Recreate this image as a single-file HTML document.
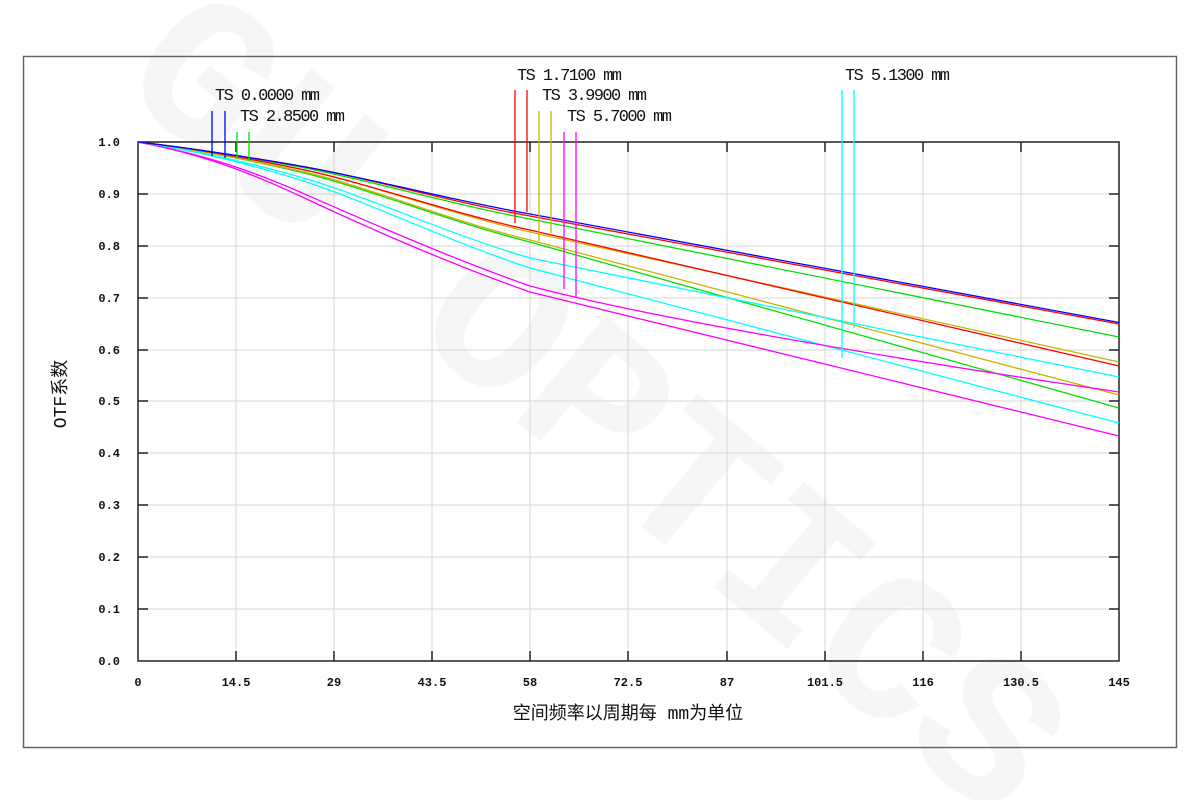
<!DOCTYPE html>
<html><head><meta charset="utf-8"><style>
html,body{margin:0;padding:0;background:#fff;width:1200px;height:800px;overflow:hidden}
svg{display:block;overflow:hidden}
text{font-family:"Liberation Mono","Noto Sans CJK SC",monospace}
</style></head><body>
<svg width="1200" height="800" viewBox="0 0 1200 800" xmlns="http://www.w3.org/2000/svg">
<rect x="0" y="0" width="1200" height="800" fill="#fff"/>
<text x="600" y="470" font-size="210" fill="#f6f6f6" font-family="Liberation Sans,sans-serif" font-weight="bold" transform="rotate(40 600 400)" text-anchor="middle" textLength="1150" lengthAdjust="spacingAndGlyphs">GU OPTICS</text>
<rect x="23.5" y="56.5" width="1153" height="691" fill="none" stroke="#666" stroke-width="1.5"/>
<g stroke="#d4d4d4" stroke-width="1">
<line x1="236" y1="142" x2="236" y2="661"/><line x1="334" y1="142" x2="334" y2="661"/><line x1="432" y1="142" x2="432" y2="661"/><line x1="530" y1="142" x2="530" y2="661"/><line x1="628" y1="142" x2="628" y2="661"/><line x1="727" y1="142" x2="727" y2="661"/><line x1="825" y1="142" x2="825" y2="661"/><line x1="923" y1="142" x2="923" y2="661"/><line x1="1021" y1="142" x2="1021" y2="661"/>
<line x1="138" y1="194" x2="1119" y2="194"/><line x1="138" y1="246" x2="1119" y2="246"/><line x1="138" y1="298" x2="1119" y2="298"/><line x1="138" y1="350" x2="1119" y2="350"/><line x1="138" y1="401" x2="1119" y2="401"/><line x1="138" y1="453" x2="1119" y2="453"/><line x1="138" y1="505" x2="1119" y2="505"/><line x1="138" y1="557" x2="1119" y2="557"/><line x1="138" y1="609" x2="1119" y2="609"/>
</g>
<rect x="138" y="142" width="981" height="519" fill="none" stroke="#222" stroke-width="1.5"/>
<g stroke="#222" stroke-width="1.5">
<path d="M236 661v-10M334 661v-10M432 661v-10M530 661v-10M628 661v-10M727 661v-10M825 661v-10M923 661v-10M1021 661v-10"/>
<path d="M236 142v10M334 142v10M432 142v10M530 142v10M628 142v10M727 142v10M825 142v10M923 142v10M1021 142v10"/>
<path d="M138 194h10M138 246h10M138 298h10M138 350h10M138 401h10M138 453h10M138 505h10M138 557h10M138 609h10"/>
<path d="M1119 194h-10M1119 246h-10M1119 298h-10M1119 350h-10M1119 401h-10M1119 453h-10M1119 505h-10M1119 557h-10M1119 609h-10"/>
</g>
<g fill="none" stroke-width="1.3">
<path stroke="#ff00ff" d="M138,142 C190,152 236,166 300,196 S450,264 530,292 L1119,436"/>
<path stroke="#00ffff" d="M138,142 C190,150 236,160 300,180 S450,242 530,268 L1119,423"/>
<path stroke="#00e000" d="M138,142 C190,149 236,157 300,172 S450,222 530,242 L1119,408"/>
<path stroke="#c8b400" d="M138,142 C190,149 236,157 300,171 S450,221 530,240 L1119,395"/>
<path stroke="#ff00ff" d="M138,142 C190,152 236,164 300,192 S450,258 530,286 C650,318 900,360 1119,392"/>
<path stroke="#00ffff" d="M138,142 C190,150 236,159 300,177 S450,235 530,258 L1119,377"/>
<path stroke="#c8b400" d="M138,142 C190,148 236,156 300,169 S450,214 530,232 L1119,362"/>
<path stroke="#ff0000" d="M138,142 C190,148 236,156 300,169 S450,213 530,230 L1119,366"/>
<path stroke="#00e000" d="M138,142 C190,148 236,155 300,167 S450,204 530,219 L1119,337"/>
<path stroke="#ff0000" d="M138,142 C190,148 236,155 300,166 S450,202 530,216 L1119,324"/>
<path stroke="#0000ff" d="M138,142 C190,148 236,155 300,166 S450,200 530,214 L1119,322.5"/>
</g>
<g stroke-width="1.3">
<line x1="212" y1="111" x2="212" y2="156" stroke="#0000ff"/><line x1="225" y1="111" x2="225" y2="158" stroke="#0000ff"/>
<line x1="237" y1="132" x2="237" y2="158" stroke="#00e000"/><line x1="249" y1="132" x2="249" y2="161" stroke="#00e000"/>
<line x1="515" y1="90" x2="515" y2="223" stroke="#ff0000"/><line x1="527" y1="90" x2="527" y2="212" stroke="#ff0000"/>
<line x1="539" y1="111" x2="539" y2="241" stroke="#c8b400"/><line x1="551" y1="111" x2="551" y2="233" stroke="#c8b400"/>
<line x1="564" y1="132" x2="564" y2="289" stroke="#ff00ff"/><line x1="576" y1="132" x2="576" y2="297" stroke="#ff00ff"/>
<line x1="842" y1="90" x2="842" y2="358" stroke="#00ffff"/><line x1="854" y1="90" x2="854" y2="328" stroke="#00ffff"/>
</g>
<g font-size="17" fill="#111">
<text x="215" y="100" textLength="105">TS 0.0000 mm</text>
<text x="240" y="121" textLength="105">TS 2.8500 mm</text>
<text x="517" y="80" textLength="105">TS 1.7100 mm</text>
<text x="542" y="100" textLength="105">TS 3.9900 mm</text>
<text x="567" y="121" textLength="105">TS 5.7000 mm</text>
<text x="845" y="80" textLength="105">TS 5.1300 mm</text>
</g>
<g font-size="12" fill="#111" font-weight="bold" text-anchor="end">
<text x="120" y="146">1.0</text><text x="120" y="198">0.9</text><text x="120" y="250">0.8</text><text x="120" y="302">0.7</text><text x="120" y="354">0.6</text><text x="120" y="405">0.5</text><text x="120" y="457">0.4</text><text x="120" y="509">0.3</text><text x="120" y="561">0.2</text><text x="120" y="613">0.1</text><text x="120" y="665">0.0</text>
</g>
<g font-size="12" fill="#111" font-weight="bold" text-anchor="middle">
<text x="138" y="686">0</text><text x="236" y="686">14.5</text><text x="334" y="686">29</text><text x="432" y="686">43.5</text><text x="530" y="686">58</text><text x="628" y="686">72.5</text><text x="727" y="686">87</text><text x="825" y="686">101.5</text><text x="923" y="686">116</text><text x="1021" y="686">130.5</text><text x="1119" y="686">145</text>
</g>
<text x="628" y="719" font-size="18" fill="#111" text-anchor="middle">空间频率以周期每 mm为单位</text>
<text x="0" y="0" font-size="18" fill="#111" text-anchor="middle" transform="translate(66 394) rotate(-90)">OTF系数</text>
</svg>
</body></html>
